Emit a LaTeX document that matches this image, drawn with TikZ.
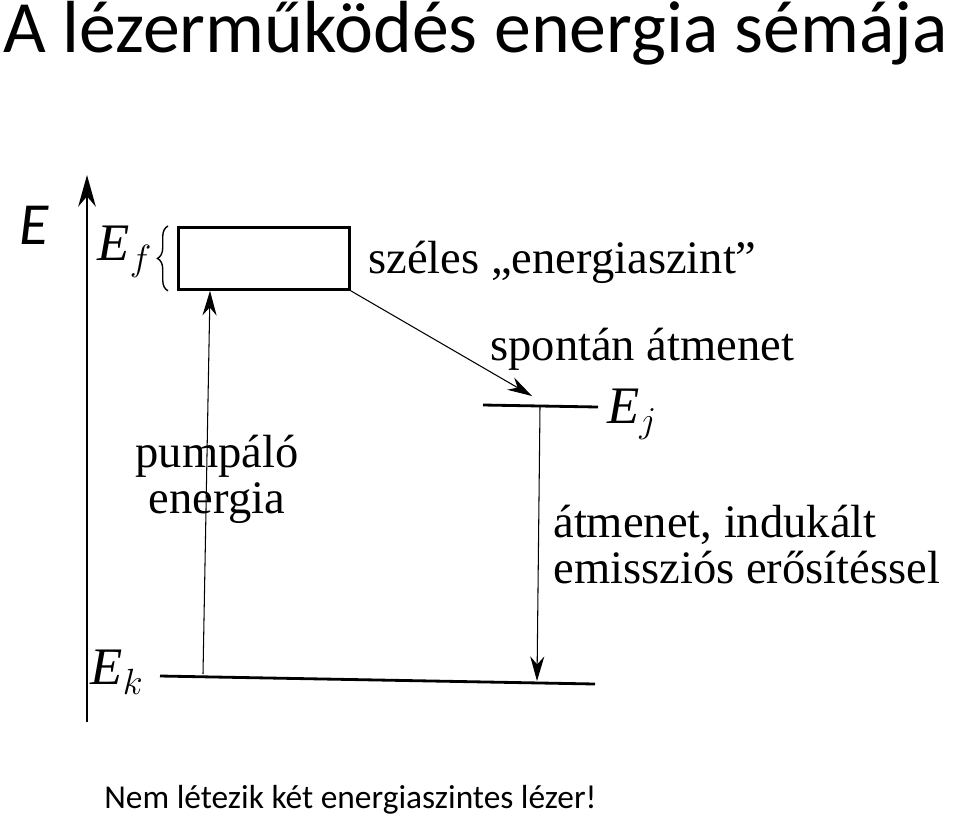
\documentclass[tikz,border=0pt]{standalone}
\usepackage{fontspec}
\setmainfont{Liberation Serif}
\newfontfamily\titlefont{Carlito}
\usetikzlibrary{arrows.meta, decorations.pathreplacing}
\begin{document}
\begin{tikzpicture}[x=0.02cm, y=-0.02cm,
    level/.style={line width=1.6pt},
    trans/.style={line width=0.6pt, -{Stealth[length=14pt, width=8pt]}},
    lbl/.style={font=\fontsize{26.5}{29}\selectfont, inner sep=0pt},
    sym/.style={font=\fontsize{30}{32}\selectfont\itshape, inner sep=0pt}]
  \useasboundingbox (0,0) rectangle (960,819);
  \node[anchor=north west, inner sep=0pt, font=\titlefont\fontsize{42}{45}\selectfont] (title) at (3,1) {A lézerműködés energia sémája};
  \node[anchor=west, inner sep=0pt, font=\titlefont\fontsize{19}{22}\selectfont] (note) at (104,800) {Nem létezik két energiaszintes lézer!};
  % tengely
  \coordinate (axbot) at (87,722);
  \coordinate (axtop) at (87,175);
  \draw[line width=1.6pt, -{Stealth[length=18pt, width=10pt]}] (axbot) -- (axtop);
  \node[font=\titlefont\fontsize{34}{36}\selectfont\itshape, inner sep=0pt] (E) at (34,225) {E};
  % szintek
  \node[draw, line width=1.6pt, minimum width=3.42cm, minimum height=1.24cm, anchor=north west] (box) at (177,226) {};
  \draw[line width=0.8pt, decorate, decoration={brace, amplitude=6pt}] (box.south west) ++(-9,0) coordinate (br1) -- ([xshift=-9*0.02cm]box.north west);
  \node[sym] (Ef) at (125,252) {E$_f$};
  \coordinate (ej1) at (483,405);
  \coordinate (ej2) at (598,407);
  \draw[level] (ej1) -- (ej2);
  \node[sym] (Ej) at (632,414) {E$_j$};
  \coordinate (ek1) at (160,676);
  \coordinate (ek2) at (595,684);
  \draw[level] (ek1) -- (ek2);
  \node[sym] (Ek) at (117,672) {E$_k$};
  % atmenetek
  \coordinate (pump0) at (203,674);
  \coordinate (spont) at (532,396);
  \coordinate (ind0) at (540,407);
  \coordinate (ind1) at (537,681);
  \draw[trans] (pump0) -- (box.south west -| 210,0);
  \draw[trans] (box.south east) -- (spont);
  \draw[trans] (ind0) -- (ind1);
  % feliratok
  \node[lbl, anchor=west] (wide) at (368,262) {széles „energiaszint"};
  \node[lbl, anchor=west] (spon) at (490,349) {spontán átmenet};
  \node[lbl, align=left, anchor=north west] (indl) at (553,505) {átmenet, indukált\\[-3pt]emissziós erősítéssel};
  \node[lbl, align=center] (pumpl) at (217,479) {pumpáló\\[-3pt]energia};
\end{tikzpicture}
\end{document}
